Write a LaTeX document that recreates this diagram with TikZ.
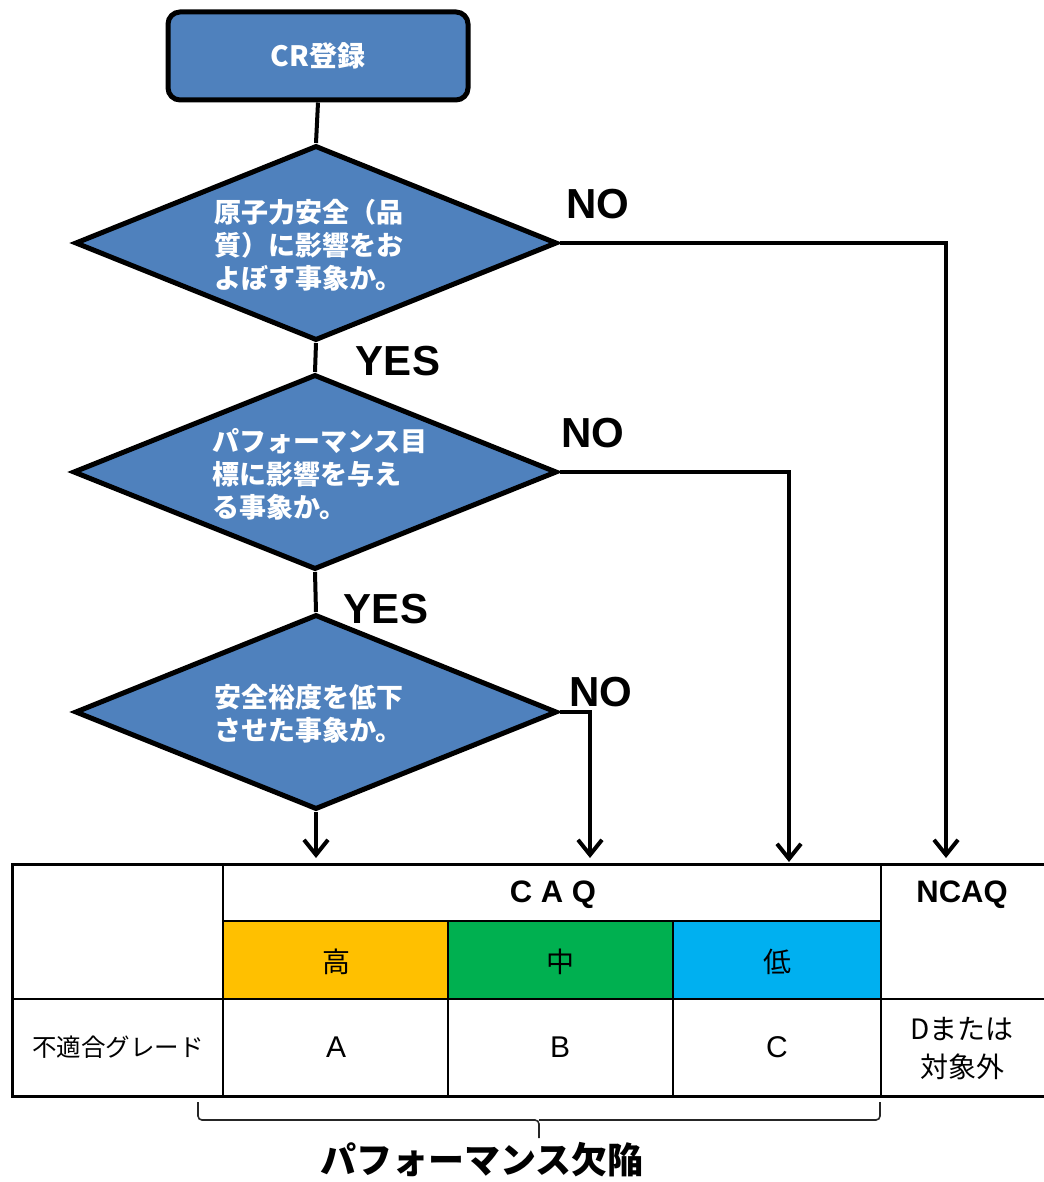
\documentclass[tikz,border=0pt]{standalone}
\usepackage{fontspec}
\setmainfont{Liberation Sans}
\newfontfamily\jp{Noto Sans CJK JP}
\usetikzlibrary{shapes.geometric,arrows.meta}
\definecolor{boxblue}{HTML}{4F81BD}
\definecolor{cellorange}{HTML}{FFC000}
\definecolor{cellgreen}{HTML}{00B050}
\definecolor{cellblue}{HTML}{00B0F0}
\tikzset{
  startbox/.style={draw=black, line width=5pt, fill=boxblue, rounded corners=12pt,
    minimum width=300pt, minimum height=88pt, inner sep=0pt,
    text=white, font=\jp\bfseries\fontsize{28}{33}\selectfont},
  decision/.style={diamond, draw=black, line width=5pt, fill=boxblue, inner sep=0pt},
  dtext/.style={anchor=west, align=left, inner sep=0pt, text=white,
    font=\jp\bfseries\fontsize{27}{33}\selectfont},
  conn/.style={draw=black, line width=4pt},
  arr/.style={conn, -{Straight Barb[length=15pt,width=24pt]}},
  lab/.style={inner sep=0pt, font=\bfseries\fontsize{42}{46}\selectfont},
  tline/.style={draw=black, line width=2pt},
  touter/.style={draw=black, line width=3pt},
  celltxt/.style={inner sep=0pt, font=\jp\fontsize{28}{38}\selectfont, align=center},
  headtxt/.style={inner sep=0pt, font=\bfseries\fontsize{31}{36}\selectfont},
  bracestyle/.style={draw=black!85, line width=1.6pt, rounded corners=4pt},
}
\begin{document}
\begin{tikzpicture}[x=1pt,y=-1pt]
\useasboundingbox (0,0) rectangle (1043,1182);

% flow nodes
\node[startbox] (cr) at (318,56) {CR登録};
\node[decision, minimum width=482pt, minimum height=195pt] (d1) at (316,243) {};
\node[decision, minimum width=484pt, minimum height=195pt] (d2) at (315,472) {};
\node[decision, minimum width=482pt, minimum height=195pt] (d3) at (316,712) {};

\node[dtext] (d1t) at (214,245) {原子力安全（品\\質）に影響をお\\よぼす事象か。};
\node[dtext] (d2t) at (212,474) {パフォーマンス目\\標に影響を与え\\る事象か。};
\node[dtext] (d3t) at (214,714) {安全裕度を低下\\させた事象か。};

% labels
\node[lab] (no1) at (598,204) {NO};
\node[lab] (yes1) at (398,361) {YES};
\node[lab] (no2) at (593,433) {NO};
\node[lab] (yes2) at (386,609) {YES};
\node[lab] (no3) at (601,692) {NO};

% arrow targets
\coordinate (a1) at (316,858);
\coordinate (a2) at (590,858);
\coordinate (a3) at (789,862);
\coordinate (a4) at (946,858);

% connectors
\draw[conn] (cr.south) -- (d1.north);
\draw[conn] (d1.south) -- (d2.north);
\draw[conn] (d2.south) -- (d3.north);
\draw[arr] (d3.south) -- (a1);
\draw[arr] (d3.east) -| (a2);
\draw[arr] (d2.east) -| (a3);
\draw[arr] (d1.east) -| (a4);

% table fills
\fill[cellorange] (223,921) rectangle (448,999);
\fill[cellgreen] (448,921) rectangle (673,999);
\fill[cellblue] (673,921) rectangle (881,999);

% table lines
\draw[tline] (223,921) -- (881,921);
\draw[tline] (12,999) -- (1045,999);
\draw[tline] (223,864) -- (223,1096);
\draw[tline] (448,921) -- (448,1096);
\draw[tline] (673,921) -- (673,1096);
\draw[tline] (881,864) -- (881,1096);
\draw[touter] (1045,864) -- (12,864) -- (12,1096) -- (1045,1096);

% table texts
\node[headtxt] (caq) at (553,895) {C A Q};
\node[headtxt] (ncaq) at (962,895) {NCAQ};
\node[celltxt] (hi) at (336,962) {高};
\node[celltxt] (mid) at (560,962) {中};
\node[celltxt] (lo) at (777,962) {低};
\node[celltxt, font=\jp\fontsize{24.5}{30}\selectfont] (grade) at (118,1047) {不適合グレード};
\node[celltxt, font=\fontsize{30}{36}\selectfont] (ga) at (336,1047) {A};
\node[celltxt, font=\fontsize{30}{36}\selectfont] (gb) at (560,1047) {B};
\node[celltxt, font=\fontsize{30}{36}\selectfont] (gc) at (777,1047) {C};
\node[celltxt] (gd) at (962,1049) {Dまたは\\対象外};

% brace
\coordinate (brl) at (198,1102);
\coordinate (brr) at (880,1102);
\coordinate (brt) at (539,1138);
\draw[bracestyle] (brl) -- (198,1120) -- (539,1120) -- (brt);
\draw[bracestyle] (brr) -- (880,1120) -- (539,1120);
\node[inner sep=0pt, font=\jp\bfseries\fontsize{36}{40}\selectfont] (pd) at (482,1160) {パフォーマンス欠陥};
\end{tikzpicture}
\end{document}
